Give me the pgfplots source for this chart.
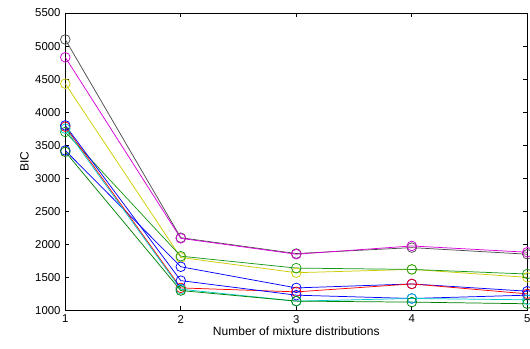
\documentclass[border=0pt]{standalone}
\usepackage{pgfplots}
\pgfplotsset{compat=1.18}
\usepackage{fontspec}
\setmainfont{Liberation Sans}
\definecolor{myyellow}{rgb}{0.8,0.8,0}
\definecolor{mygreen}{rgb}{0.1,0.6,0.1}
\definecolor{mydgreen}{rgb}{0,0.5,0}
\definecolor{mycyan}{rgb}{0,0.8,0.8}
\definecolor{mygray}{rgb}{0.3,0.3,0.3}
\definecolor{mymag}{rgb}{0.85,0,0.85}
\begin{document}
\begin{tikzpicture}
\begin{axis}[
  name=ax,
  scale only axis,
  width=345pt, height=222pt,
  xmin=1, xmax=5, ymin=1000, ymax=5500,
  xtick={1,2,3,4,5},
  ytick={1000,1500,...,5500},
  tick align=inside,
  major tick length=3pt,
  tick style={black, line width=0.6pt},
  axis line style={line width=0.6pt},
  every tick label/.append style={font=\fontsize{8.5}{10}\selectfont},
  /pgf/number format/assume math mode=true,
  /pgf/number format/1000 sep={},
  xlabel={Number of mixture distributions},
  ylabel={BIC},
  label style={font=\fontsize{9}{10}\selectfont},
  xlabel style={yshift=4pt},
  ylabel style={yshift=-2pt},
  every axis plot/.append style={line width=0.55pt, mark=o, mark size=3.6pt, mark options={solid}},
]
\addplot[mygray] coordinates {(1,5100)(2,2100)(3,1860)(4,1950)(5,1850)};
\addplot[mymag] coordinates {(1,4830)(2,2090)(3,1850)(4,1975)(5,1880)};
\addplot[myyellow] coordinates {(1,4430)(2,1800)(3,1570)(4,1620)(5,1500)};
\addplot[mygreen] coordinates {(1,3700)(2,1820)(3,1640)(4,1620)(5,1550)};
\addplot[blue] coordinates {(1,3420)(2,1660)(3,1340)(4,1400)(5,1290)};
\addplot[red] coordinates {(1,3780)(2,1340)(3,1280)(4,1400)(5,1250)};
\addplot[blue] coordinates {(1,3800)(2,1450)(3,1230)(4,1180)(5,1230)};
\addplot[mycyan] coordinates {(1,3750)(2,1320)(3,1140)(4,1180)(5,1160)};
\addplot[mydgreen] coordinates {(1,3400)(2,1300)(3,1140)(4,1125)(5,1100)};
\end{axis}
\pgfresetboundingbox
\path[use as bounding box] ([xshift=-48.75pt,yshift=-28.5pt]ax.south west) rectangle ([xshift=2pt,yshift=9.75pt]ax.north east);
\end{tikzpicture}
\end{document}
